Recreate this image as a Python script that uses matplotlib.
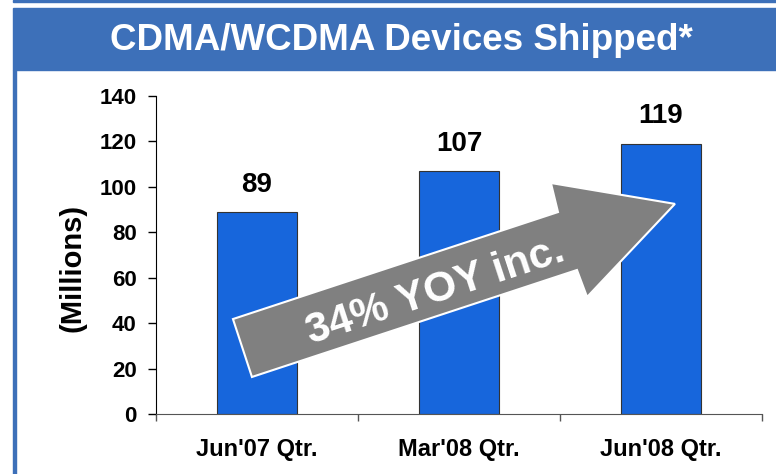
import matplotlib.pyplot as plt
from matplotlib.patches import Polygon, Rectangle

plt.rcParams['font.family'] = ['Liberation Sans', 'DejaVu Sans']
plt.rcParams['font.weight'] = 'bold'
plt.rcParams['axes.labelweight'] = 'bold'

# data
quarters = ["Jun'07 Qtr.", "Mar'08 Qtr.", "Jun'08 Qtr."]
devices = [89, 107, 119]
yticks = [0, 20, 40, 60, 80, 100, 120, 140]
title = 'CDMA/WCDMA Devices Shipped*'
arrow_label = '34% YOY inc.'

header_blue = '#3D70B9'
bar_blue = '#1766DC'

W, H = 776, 474
fig = plt.figure(figsize=(W / 100, H / 100), dpi=100)

# slide frame: thin top rule, title band, left rule
fig.patches.append(Rectangle((13 / W, 1 - 2 / H), 1, 2 / H,
                             transform=fig.transFigure, color=header_blue))
fig.patches.append(Rectangle((13 / W, 1 - 70 / H), 1, 62 / H,
                             transform=fig.transFigure, color=header_blue))
fig.patches.append(Rectangle((13 / W, 0), 3 / W, 1 - 70 / H,
                             transform=fig.transFigure, color=header_blue))
fig.text(401 / W, 1 - 41 / H, title, color='white', fontsize=26.5,
         ha='center', va='center')

ax = fig.add_axes([156 / W, 60 / H, 606 / W, 318 / H])
x = range(len(quarters))
ax.bar(x, devices, width=0.4, color=bar_blue, edgecolor='#333333',
       linewidth=0.8, zorder=2)
for i, v in zip(x, devices):
    ax.text(i, v + 12, str(v), ha='center', va='center', fontsize=20)

ax.set_xlim(-0.5, 2.5)
ax.set_ylim(0, 140)
ax.set_yticks(yticks)
ax.tick_params(axis='y', direction='out', length=6, width=1, pad=8,
               labelsize=16)
ax.set_xticks([-0.5, 0.5, 1.5, 2.5], ['', '', '', ''])
ax.tick_params(axis='x', which='major', direction='out', length=5,
               width=1, color='#555555')
ax.set_xticks(list(x), quarters, minor=True)
ax.tick_params(axis='x', which='minor', length=0, pad=17, labelsize=17)

ax.set_ylabel('(Millions)', fontsize=21, fontweight='bold')
ax.yaxis.set_label_coords(-0.114, 0.46)

for s in ['top', 'right']:
    ax.spines[s].set_visible(False)
ax.spines['left'].set_color('black')
ax.spines['bottom'].set_color('#555555')

# growth arrow
arrow_x = [-0.119, 1.490, 1.455, 2.069, 1.634, 1.584, -0.025]
arrow_y = [41.8, 88.9, 101.7, 92.5, 51.5, 63.4, 16.3]
ax.add_patch(Polygon(list(zip(arrow_x, arrow_y)), closed=True,
                     facecolor='#808080', edgecolor='white', linewidth=1.5,
                     zorder=3, clip_on=False))
ax.text(0.885, 54.0, arrow_label, color='white', fontsize=30.5,
        rotation=18.2, rotation_mode='anchor', ha='center', va='center',
        zorder=4)

fig.savefig('out.png', dpi=100)
